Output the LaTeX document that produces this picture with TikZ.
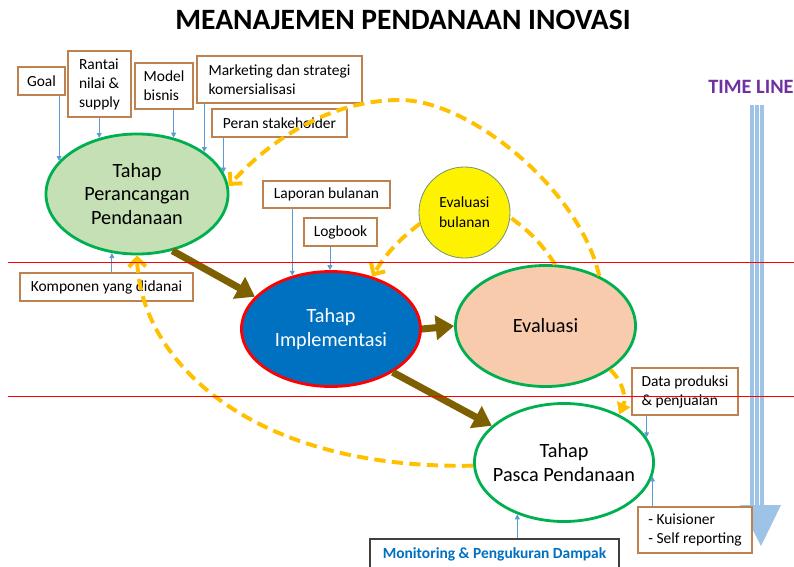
\documentclass[tikz,border=0pt]{standalone}
\usepackage{fontspec}
\setmainfont{Carlito}
\usepackage{xcolor}
\usetikzlibrary{positioning,shapes.geometric,arrows.meta}

\definecolor{boxbrown}{RGB}{190,130,80}
\definecolor{stagegreen}{RGB}{0,176,80}
\definecolor{plangreen}{RGB}{197,224,180}
\definecolor{implblue}{RGB}{0,112,192}
\definecolor{evalpeach}{RGB}{248,203,173}
\definecolor{bulgreen}{RGB}{120,150,110}
\definecolor{feedblue}{RGB}{91,155,213}
\definecolor{flowbrown}{RGB}{127,96,0}
\definecolor{reviewyellow}{RGB}{255,192,0}
\definecolor{tlblue}{RGB}{157,195,230}
\definecolor{tlpurple}{RGB}{112,48,160}
\definecolor{mongray}{RGB}{64,64,64}

\begin{document}
\begin{tikzpicture}[x=0.025cm,y=-0.025cm]
\tikzstyle{every node}+=[inner sep=0pt]
\tikzstyle{box}=[draw=boxbrown,fill=white,line width=0.8pt,align=left,font=\fontsize{11}{13.5}\selectfont]
\tikzstyle{stage}=[ellipse,line width=2pt,align=center,font=\fontsize{14.4}{17}\selectfont]
\tikzstyle{infoarrow}=[draw=feedblue,line width=0.6pt,-{Triangle[length=3.5pt,width=3.5pt]}]
\tikzstyle{mainflow}=[draw=flowbrown,line width=5pt,-{Triangle[length=13pt,width=17pt]}]
\tikzstyle{review}=[draw=reviewyellow,line width=2.8pt,dash pattern=on 8pt off 4.5pt,-{Straight Barb[length=6pt,width=12pt]}]
\useasboundingbox (0,0) rectangle (794,566);

% judul
\node[font=\bfseries\fontsize{21}{24}\selectfont,anchor=base] (title) at (403,29) {MEANAJEMEN PENDANAAN INOVASI};

% time line
\node[anchor=base west,font=\bfseries\fontsize{14.5}{17}\selectfont,text=tlpurple] (timeline) at (708,93) {TIME LINE};
\fill[tlblue] (750,105) rectangle (764,506);
\draw[white,line width=0.9pt] (754.5,105) -- (754.5,506) (759.5,105) -- (759.5,506);
\fill[tlblue] (740,505) -- (781,505) -- (761,546) -- cycle;

% tahap
\node[stage,draw=stagegreen,fill=plangreen,minimum width=4.55cm,minimum height=3cm] (plan) at (137,194) {Tahap\\Perancangan\\Pendanaan};
\node[stage,draw=red,fill=implblue,text=white,minimum width=4.475cm,minimum height=2.875cm] (impl) at (331,329) {Tahap\\Implementasi};
\node[stage,draw=stagegreen,fill=evalpeach,minimum width=4.5cm,minimum height=3.025cm] (eval) at (545.5,326) {Evaluasi};
\node[stage,draw=stagegreen,fill=white,inner xsep=-0.9cm,minimum width=4.475cm,minimum height=2.95cm] (pasca) at (564,462.5) {Tahap\\Pasca Pendanaan};
\node[circle,draw=bulgreen,fill=yellow,line width=0.6pt,minimum size=2.275cm,align=center,font=\fontsize{11}{14}\selectfont] (bul) at (464.5,212.5) {Evaluasi\\bulanan};

% kotak masukan
\node[box,minimum width=1.175cm,minimum height=0.7cm] (goal) at (41.5,81) {Goal};
\node[box,minimum width=1.575cm,minimum height=1.65cm] (rantai) at (99.5,84) {Rantai\\nilai \&\\supply};
\node[box,minimum width=1.45cm,minimum height=1.15cm] (model) at (164,86) {Model\\bisnis};
\node[box,minimum width=4.125cm,minimum height=1.175cm] (market) at (279.5,79.5) {Marketing dan strategi\\komersialisasi};
\node[box,minimum width=3.375cm,minimum height=0.7cm] (peran) at (279.5,123) {Peran stakeholder};
\node[box,minimum width=3.175cm,minimum height=0.675cm] (lapor) at (326.5,194.5) {Laporan bulanan};
\node[box,minimum width=1.825cm,minimum height=0.7cm] (logbook) at (340.5,232) {Logbook};
\node[box,minimum width=4.325cm,minimum height=0.7cm] (komp) at (106.5,287) {Komponen yang didanai};
\node[box,minimum width=2.65cm,minimum height=1.175cm] (data) at (685,391.5) {Data produksi\\\& penjualan};
\node[box,minimum width=2.85cm,minimum height=1.15cm] (kuis) at (695,530) {- Kuisioner\\- Self reporting};
\node[draw=mongray,fill=white,line width=0.8pt,minimum width=6.225cm,minimum height=0.75cm,text=implblue,font=\bfseries\fontsize{11}{13}\selectfont] (monitor) at (494.5,554) {Monitoring \& Pengukuran Dampak};

% panah masukan
\draw[infoarrow] (goal.south -| plan.157) -- (plan.157);
\draw[infoarrow] (rantai.south -| plan.124) -- (plan.124);
\draw[infoarrow] (model.south -| plan.57) -- (plan.57);
\draw[infoarrow] (market.south -| plan.32) -- (plan.32);
\draw[infoarrow] (peran.south -| plan.14) -- (plan.14);
\draw[infoarrow] (komp.north -| plan.247) -- (plan.247);
\draw[infoarrow] (lapor.south -| impl.126) -- (impl.126);
\draw[infoarrow] (logbook.south -| impl.91) -- (impl.91);
\draw[infoarrow] (data.south -| pasca.17) -- (pasca.17);
\draw[infoarrow] (kuis.north -| pasca.351) -- (pasca.351);
\draw[infoarrow] (monitor.north -| pasca.228) -- (pasca.228);

% alur utama
\draw[mainflow] (plan.-58) -- (impl.157);
\draw[mainflow] (impl.east) -- (eval.west);
\draw[mainflow] (impl.-35) -- (pasca.153);

% umpan balik
\coordinate (arcTop) at (400,100);
\draw[review] (eval.43) .. controls (580,190) and (470,100) .. (arcTop) .. controls (330,100) and (270,140) .. (plan.5);
\draw[review,-] (eval.81) to[bend right=10] (bul.-6);
\draw[review] (bul.194) to[bend right=10] (impl.52);
\draw[review,-{Triangle[length=8pt,width=10pt]}] (eval.-34) to[bend left=35] (pasca.41);
\draw[review] (pasca.182) .. controls (250,470) and (140,360) .. (plan.-90);

% garis batas
\draw[red,line width=0.6pt] (8,262) -- (794,262);
\draw[red,line width=0.6pt] (8,396.5) -- (794,396.5);
\end{tikzpicture}
\end{document}
